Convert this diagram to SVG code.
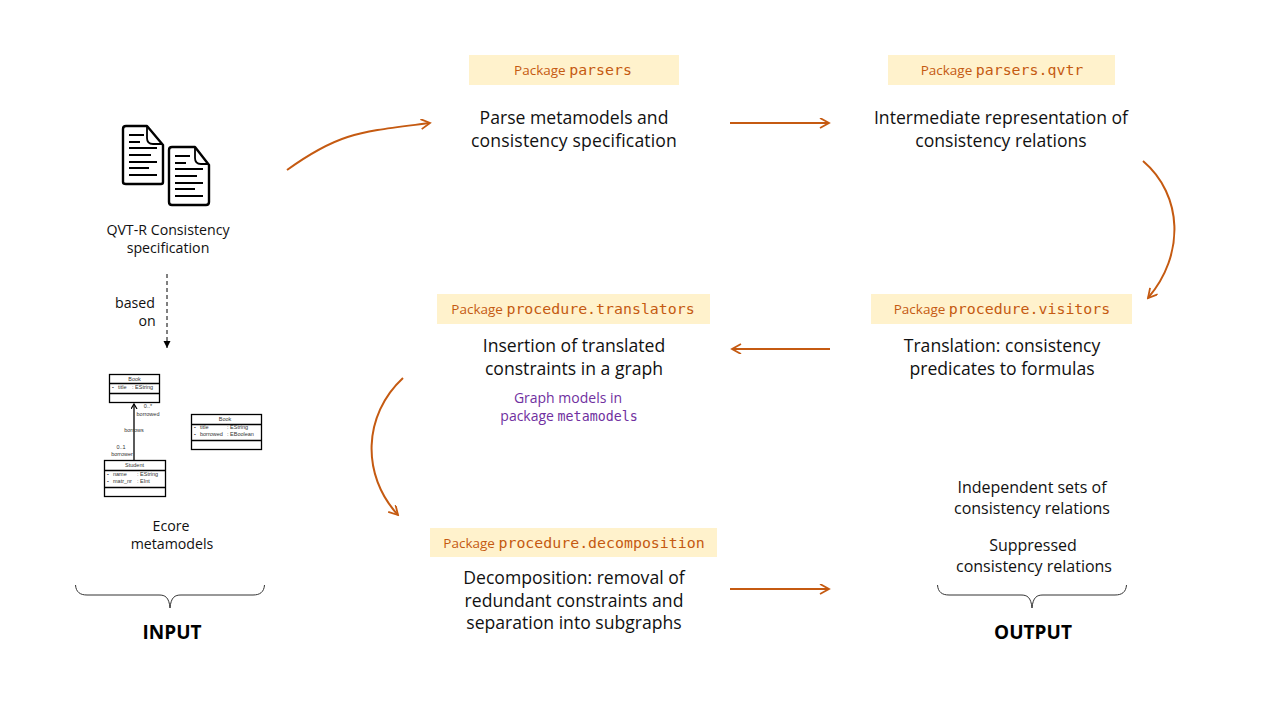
<svg xmlns="http://www.w3.org/2000/svg" width="1280" height="720" viewBox="0 0 1280 720">
<style>
text{font-family:"Open Sans","Noto Sans",sans-serif;text-anchor:middle}
.b{font-size:17.6px;fill:#111}
.s{font-size:14.2px;fill:#111}
.r{font-size:16px;fill:#111}
.p{font-size:13.5px;fill:#c55a11}
.m{font-family:"DejaVu Sans Mono",monospace;font-size:14.9px}
.v{font-size:14px;fill:#7030a0}
.vm{font-family:"DejaVu Sans Mono",monospace;font-size:13.3px}
.h{font-size:19px;font-weight:700;fill:#000}
.t{fill:#fff2cc}
.c{fill:none;stroke:#c55a11;stroke-width:2;marker-end:url(#a)}
.br{fill:none;stroke:#333;stroke-width:1}
.u{fill:#fff;stroke:#000;stroke-width:1.3}
.ul{font-family:"Liberation Sans",sans-serif;font-size:5.5px;fill:#333}
.ua{font-family:"Liberation Sans",sans-serif;font-size:5.5px;fill:#333;text-anchor:start}
.d{font-weight:700;fill:#000}
.doc{fill:#fff;stroke:#000;stroke-width:2.4;stroke-linejoin:round}
.dl{stroke:#000;stroke-width:1.8;fill:none}
</style>
<defs>
<marker id="a" markerWidth="12" markerHeight="12" refX="10" refY="5" orient="auto" markerUnits="userSpaceOnUse"><path d="M1 0L10 5L1 10" fill="none" stroke="#c55a11" stroke-width="1.8"/></marker>
<marker id="k" markerWidth="9" markerHeight="9" refX="7" refY="3.500" orient="auto" markerUnits="userSpaceOnUse"><path d="M0 0L7 3.500L0 7Z" fill="#000"/></marker>
<marker id="o" markerWidth="7" markerHeight="7" refX="5" refY="3" orient="auto" markerUnits="userSpaceOnUse"><path d="M0 0L5 3L0 6" fill="none" stroke="#000" stroke-width="1.200"/></marker>
</defs>
<g id="connectors">
<path class="c" d="M287 170C340 132 360 132 430 123"/>
<path class="c" d="M730 123H829"/>
<path class="c" d="M1143 161C1183 195 1185 255 1148 298"/>
<path class="c" d="M830 349H732"/>
<path class="c" d="M403 378C363 415 361 475 398 515"/>
<path class="c" d="M730 589H829"/>
<path d="M167 274V348" fill="none" stroke="#000" stroke-width="1" stroke-dasharray="4 3" marker-end="url(#k)"/>
<path d="M134 460V404" fill="none" stroke="#000" stroke-width="1.300" marker-end="url(#o)"/>
</g>
<g id="qvtr-icon">
<path class="doc" d="M126 126H147L163 145V182Q163 184 161 184H126Q123 184 123 182V129Q123 126 126 126Z"/>
<path class="dl" d="M147 126V138Q147 144 153 144H163M129 135H144M129 142H140M129 148H157M129 155H151M129 162H157M129 168H149M129 175H157"/>
<path class="doc" d="M172 147H195L209 165V202Q209 205 206 205H172Q169 205 169 202V150Q169 147 172 147Z"/>
<path class="dl" d="M195 147V158Q195 164 201 164H209M175 156H190M175 163H186M175 169H203M175 176H197M175 183H203M175 189H195M175 196H203"/>
<text class="s" x="168" y="235">QVT-R Consistency</text>
<text class="s" x="168" y="253">specification</text>
</g>
<g id="based-on"><text class="s" x="135" y="308">based</text><text class="s" x="147" y="326">on</text></g>
<g id="ecore-book1">
<rect class="u" x="109.500" y="374.500" width="50" height="28"/><path class="u" d="M109.500 383.500H159.500M109.500 393.500H159.500"/>
<text class="ul" x="134.500" y="380.500">Book</text>
<text class="ua d" x="112" y="389">-</text><text class="ua" x="118" y="389">title</text><text class="ua" x="132" y="389">: EString</text>
</g>
<g id="ecore-student">
<rect class="u" x="104.500" y="460.500" width="61" height="36"/><path class="u" d="M104.500 470.500H165.500M104.500 487.500H165.500"/>
<text class="ul" x="134.500" y="467">Student</text>
<text class="ua d" x="107" y="476">-</text><text class="ua" x="113" y="476">name</text><text class="ua" x="137" y="476">: EString</text>
<text class="ua d" x="107" y="483">-</text><text class="ua" x="113" y="483">matr_nr</text><text class="ua" x="137" y="483">: EInt</text>
</g>
<g id="ecore-book2">
<rect class="u" x="191.500" y="414.500" width="70" height="35"/><path class="u" d="M191.500 424.500H261.500M191.500 440.500H261.500"/>
<text class="ul" x="225" y="420.500">Book</text>
<text class="ua d" x="194" y="429">-</text><text class="ua" x="200" y="429">title</text><text class="ua" x="227" y="429">: EString</text>
<text class="ua d" x="194" y="436">-</text><text class="ua" x="200" y="436">borrowed</text><text class="ua" x="227" y="436">: EBoolean</text>
</g>
<g id="ecore-labels">
<text class="ul" x="148" y="408">0..*</text><text class="ul" x="148" y="415.500">borrowed</text>
<text class="ul" x="134" y="432">borrows</text>
<text class="ul" x="121" y="448.500">0..1</text><text class="ul" x="122" y="456">borrower</text>
<text class="s" x="171" y="531">Ecore</text><text class="s" x="172" y="549">metamodels</text>
</g>
<g id="input"><path class="br" d="M75.500 585C76 592 80 595 87 595H159C165 595 169 597 170 608C171 597 175 595 181 595H253C260 595 264 592 264.500 585"/><text class="h" x="172" y="639">INPUT</text></g>
<g id="output"><path class="br" d="M937.500 585C938 592 942 595 949 595H1021C1027 595 1031 597 1032 608C1033 597 1037 595 1043 595H1115C1122 595 1126 592 1126.500 585"/><text class="h" x="1033" y="639">OUTPUT</text></g>
<g id="parsers">
<rect class="t" x="469" y="55" width="210" height="30"/>
<text class="p" x="573" y="75">Package <tspan class="m">parsers</tspan></text>
<text class="b" x="574" y="124">Parse metamodels and</text><text class="b" x="574" y="147" letter-spacing=".15">consistency specification</text>
</g>
<g id="qvtr">
<rect class="t" x="888" y="55" width="227" height="30"/>
<text class="p" x="1002" y="75">Package <tspan class="m">parsers.qvtr</tspan></text>
<text class="b" x="1001" y="124">Intermediate representation of</text><text class="b" x="1001" y="147">consistency relations</text>
</g>
<g id="visitors">
<rect class="t" x="871" y="294" width="261" height="30"/>
<text class="p" x="1002" y="314">Package <tspan class="m">procedure.visitors</tspan></text>
<text class="b" x="1002" y="352">Translation: consistency</text><text class="b" x="1002" y="375">predicates to formulas</text>
</g>
<g id="translators">
<rect class="t" x="437" y="294" width="273" height="30"/>
<text class="p" x="573" y="314">Package <tspan class="m">procedure.translators</tspan></text>
<text class="b" x="574" y="352">Insertion of translated</text><text class="b" x="574" y="375">constraints in a graph</text>
<text class="v" x="568" y="403">Graph models in</text><text class="v" x="569" y="421">package <tspan class="vm">metamodels</tspan></text>
</g>
<g id="decomposition">
<rect class="t" x="430" y="528" width="287" height="29"/>
<text class="p" x="574" y="548">Package <tspan class="m">procedure.decomposition</tspan></text>
<text class="b" x="574" y="584">Decomposition: removal of</text><text class="b" x="574" y="607">redundant constraints and</text><text class="b" x="574" y="629">separation into subgraphs</text>
</g>
<g id="results">
<text class="r" x="1032" y="492.500">Independent sets of</text><text class="r" x="1032" y="513.500">consistency relations</text>
<text class="r" x="1033" y="550.500">Suppressed</text><text class="r" x="1034" y="571.500">consistency relations</text>
</g>
</svg>
